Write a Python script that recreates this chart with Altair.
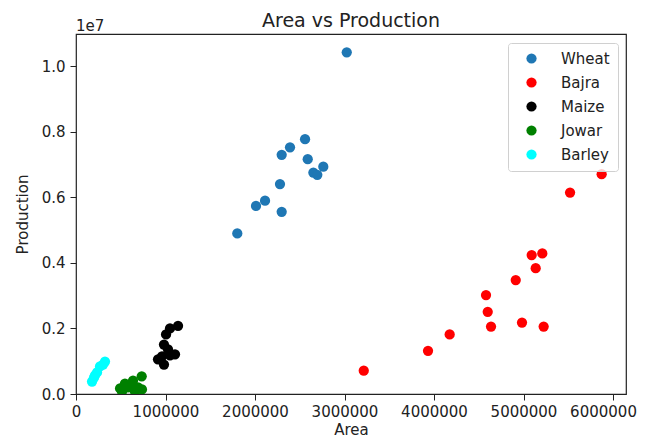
import altair as alt
import pandas as pd

crops = ["Wheat", "Bajra", "Maize", "Jowar", "Barley"]
colors = ["#1f77b4", "#ff0000", "#000000", "#008000", "#00ffff"]

wheat_area = [3025000, 2559000, 2391000, 2298000, 2589000, 2763000, 2652000, 2696000, 2279000, 2112000, 2011000, 2298000, 1802000]
wheat_prod = [10430000, 7780000, 7530000, 7300000, 7170000, 6940000, 6760000, 6690000, 6410000, 5900000, 5740000, 5560000, 4900000]

bajra_area = [5873000, 5520000, 5091000, 5210000, 5136000, 4913000, 4581000, 4600000, 4637000, 4983000, 5225000, 4175000, 3933000, 3215000]
bajra_prod = [6710000, 6150000, 4240000, 4290000, 3840000, 3480000, 3020000, 2510000, 2060000, 2180000, 2060000, 1820000, 1320000, 710000]

maize_area = [1140000, 1050000, 1006000, 983000, 1028000, 1106000, 961000, 916000, 983000, 1050000]
maize_prod = [2080000, 2000000, 1820000, 1510000, 1360000, 1210000, 1150000, 1060000, 900000, 1180000]

jowar_area = [734000, 637000, 547000, 492000, 581000, 693000, 514000, 659000, 737000, 603000]
jowar_prod = [540000, 410000, 320000, 170000, 200000, 200000, 80000, 80000, 140000, 290000]

barley_area = [324000, 268000, 235000, 201000, 179000, 302000, 212000]
barley_prod = [990000, 840000, 660000, 500000, 380000, 900000, 570000]

x_ticks = [0, 1000000, 2000000, 3000000, 4000000, 5000000, 6000000]
y_ticks = [0, 2000000, 4000000, 6000000, 8000000, 10000000]

title_text = "Area vs Production"
exp_text = "1e7"

series = [
    ("Wheat", wheat_area, wheat_prod),
    ("Bajra", bajra_area, bajra_prod),
    ("Maize", maize_area, maize_prod),
    ("Jowar", jowar_area, jowar_prod),
    ("Barley", barley_area, barley_prod),
]
rows = []
for crop, areas, prods in series:
    for a, p in zip(areas, prods):
        rows.append({"Crop": crop, "Area": a, "Production": p, "idx": len(rows)})
df = pd.DataFrame(rows)

FONT = "DejaVu Sans"
FS = 15

points = alt.Chart(df).mark_circle(size=105, opacity=1, clip=True).encode(
    x=alt.X("Area:Q",
            scale=alt.Scale(domain=[0, 6145000], nice=False, zero=False),
            axis=alt.Axis(values=x_ticks, format="d", title="Area", grid=False,
                          tickSize=6, labelPadding=4, labelFontSize=FS, titleFontSize=FS,
                          labelFont=FONT, titleFont=FONT, labelColor="#222", titleColor="#222",
                          tickColor="#222", domain=False, titleFontWeight="normal",
                          titleY=35, titleBaseline="middle", labelFlush=False, labelOverlap=False,
                          labelOffset={"condition": {"test": "datum.value == 6000000", "value": -10},
                                       "value": 0})),
    y=alt.Y("Production:Q",
            scale=alt.Scale(domain=[0, 10990000], nice=False, zero=False),
            axis=alt.Axis(values=y_ticks, labelExpr="format(datum.value / 10000000, '.1f')",
                          title="Production", grid=False, tickSize=6, labelPadding=5,
                          labelFontSize=FS, titleFontSize=FS, labelFont=FONT, titleFont=FONT,
                          labelColor="#222", titleColor="#222", tickColor="#222", domain=False,
                          titleFontWeight="normal", titleX=-54, titleY=180, titleAngle=270,
                          titleAlign="center", titleBaseline="middle", labelFlush=False,
                          labelOverlap=False)),
    color=alt.Color("Crop:N", sort=crops,
                    scale=alt.Scale(domain=crops, range=colors),
                    legend=alt.Legend(orient="none", legendX=432, legendY=9, title=None,
                                      strokeColor="#d0d0d0", fillColor="rgba(255,255,255,0.8)",
                                      padding=8, cornerRadius=3, symbolSize=105,
                                      symbolType="circle", symbolStrokeWidth=0,
                                      labelFontSize=FS, labelFont=FONT, labelColor="#222",
                                      labelOffset=22, rowPadding=8, symbolOffset=8)),
    order=alt.Order("idx:Q"),
)

exp_label = alt.Chart(pd.DataFrame({"t": [exp_text]})).mark_text(
    align="left", baseline="alphabetic", fontSize=FS, font=FONT, color="#222"
).encode(text="t:N", x=alt.value(0), y=alt.value(-3))

title_label = alt.Chart(pd.DataFrame({"t": [title_text]})).mark_text(
    align="center", baseline="alphabetic", fontSize=19, font=FONT, color="#222"
).encode(text="t:N", x=alt.value(275), y=alt.value(-7))

chart = alt.layer(points, exp_label, title_label).properties(
    width=550, height=360,
    autosize=alt.AutoSizeParams(type="none"),
    padding={"left": 68, "top": 26, "right": 14, "bottom": 44},
).configure_view(stroke="#222", strokeWidth=1.2)

chart.save("out.html", embed_options={"renderer": "svg", "actions": False})
